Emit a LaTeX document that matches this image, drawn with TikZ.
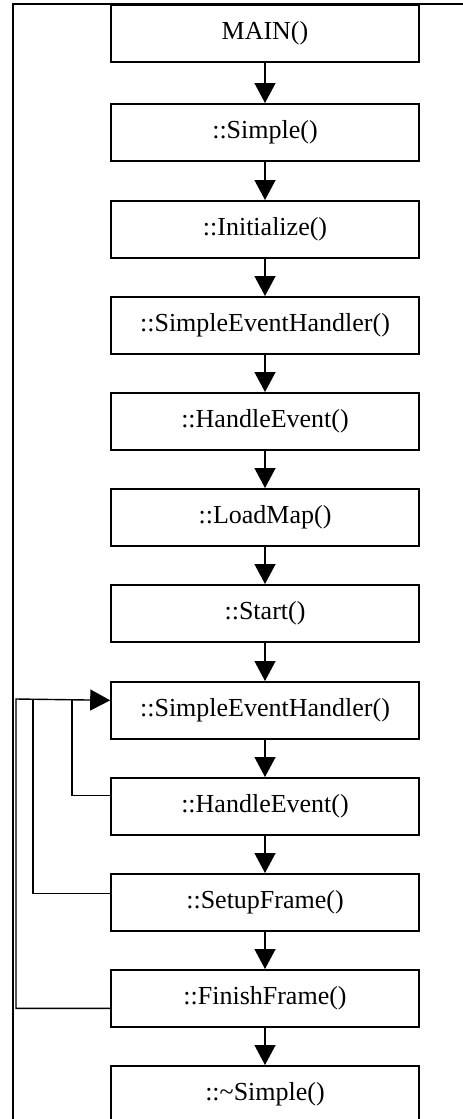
\documentclass[tikz,border=0pt]{standalone}
\usepackage{fontspec}
\setmainfont{Liberation Serif}
\usetikzlibrary{arrows.meta}
\begin{document}
\begin{tikzpicture}[x=1pt,y=-1pt,
  fbox/.style={draw=black,line width=1.6pt,rectangle,minimum width=308pt,minimum height=57pt,
    anchor=north,inner sep=0pt,font=\fontsize{26}{29}\selectfont},
  arr/.style={line width=1.4pt,-{Triangle[length=20pt,width=21pt]}},
  loop/.style={line width=1.4pt}]
\useasboundingbox (0,0) rectangle (463,1119);
\fill[white] (-10,-10) rectangle (475,1130);
\draw[line width=2pt] (13,1125) -- (13,4) -- (470,4);
\node[fbox] (main) at (265,4) {MAIN()};
\node[fbox] (simple) at (265,103) {::Simple()};
\node[fbox] (init) at (265,200) {::Initialize()};
\node[fbox] (seh1) at (265,296) {::SimpleEventHandler()};
\node[fbox] (he1) at (265,392) {::HandleEvent()};
\node[fbox] (load) at (265,488) {::LoadMap()};
\node[fbox] (start) at (265,584) {::Start()};
\node[fbox] (seh2) at (265,681) {::SimpleEventHandler()};
\node[fbox] (he2) at (265,777) {::HandleEvent()};
\node[fbox] (setup) at (265,873) {::SetupFrame()};
\node[fbox] (finish) at (265,969) {::FinishFrame()};
\node[fbox] (dtor) at (265,1065) {::\textasciitilde Simple()};
\draw[arr] (main) -- (simple);
\draw[arr] (simple) -- (init);
\draw[arr] (init) -- (seh1);
\draw[arr] (seh1) -- (he1);
\draw[arr] (he1) -- (load);
\draw[arr] (load) -- (start);
\draw[arr] (start) -- (seh2);
\draw[arr] (seh2) -- (he2);
\draw[arr] (he2) -- (setup);
\draw[arr] (setup) -- (finish);
\draw[arr] (finish) -- (dtor);
\coordinate (j1) at (72,699);
\coordinate (j2) at (33,699);
\coordinate (j3) at (16,699);
\draw[loop] ([yshift=11pt]he2.west) -| (j1);
\draw[loop] ([yshift=9pt]setup.west) -| (j2);
\draw[arr] ([yshift=-10pt]finish.west) -| (j3) -- ([yshift=10pt]seh2.west);
\end{tikzpicture}
\end{document}
